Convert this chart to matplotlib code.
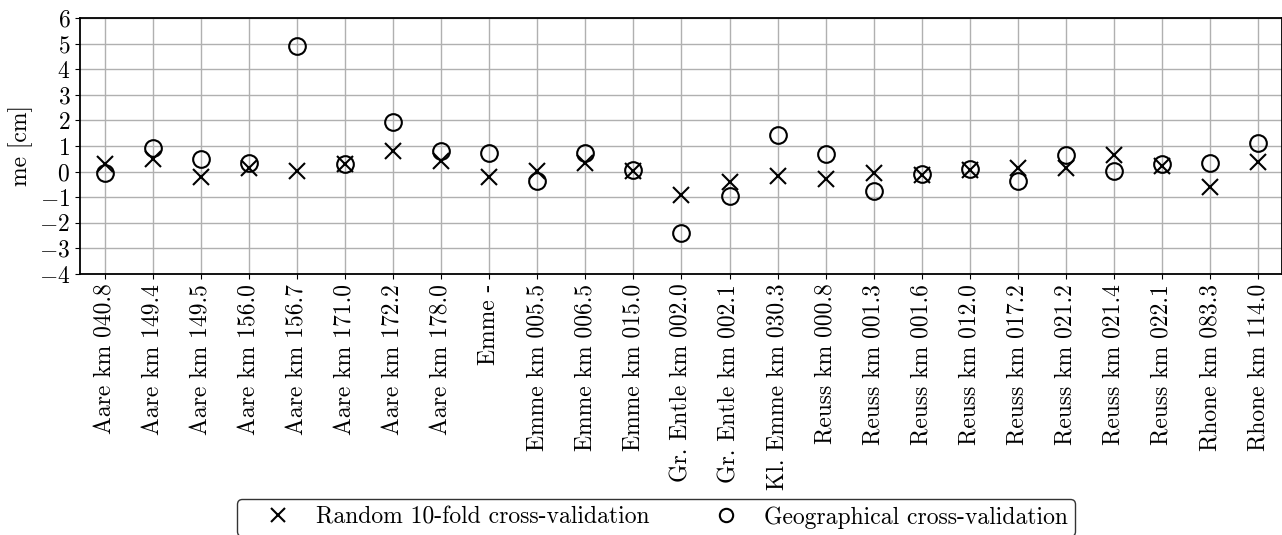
import matplotlib
matplotlib.use('Agg')
import matplotlib.pyplot as plt

plt.rcParams['font.family'] = 'serif'
plt.rcParams['font.serif'] = ['cmr10']
plt.rcParams['mathtext.fontset'] = 'cm'
plt.rcParams['axes.formatter.use_mathtext'] = True
plt.rcParams['axes.unicode_minus'] = True

stations = ['Aare km 040.8', 'Aare km 149.4', 'Aare km 149.5', 'Aare km 156.0',
            'Aare km 156.7', 'Aare km 171.0', 'Aare km 172.2', 'Aare km 178.0',
            'Emme -', 'Emme km 005.5', 'Emme km 006.5', 'Emme km 015.0',
            'Gr. Entle km 002.0', 'Gr. Entle km 002.1', 'Kl. Emme km 030.3',
            'Reuss km 000.8', 'Reuss km 001.3', 'Reuss km 001.6', 'Reuss km 012.0',
            'Reuss km 017.2', 'Reuss km 021.2', 'Reuss km 021.4', 'Reuss km 022.1',
            'Rhone km 083.3', 'Rhone km 114.0']

me_random = [0.29, 0.48, -0.20, 0.13, 0.03, 0.30, 0.82, 0.42,
             -0.20, 0.04, 0.35, 0.03, -0.91, -0.42, -0.16,
             -0.29, -0.07, -0.13, 0.07, 0.13, 0.13, 0.63, 0.23,
             -0.59, 0.36]

me_geo = [-0.04, 0.91, 0.49, 0.35, 4.91, 0.30, 1.95, 0.80,
          0.74, -0.36, 0.74, 0.05, -2.38, -0.95, 1.43,
          0.68, -0.75, -0.10, 0.09, -0.36, 0.65, 0.04, 0.30,
          0.35, 1.11]

fs = 17

fig = plt.figure(figsize=(12.82, 5.35), dpi=100)
ax = fig.add_axes([80 / 1282, 1 - 274 / 535, 1202 / 1282, 256 / 535])

x = range(len(stations))
ax.plot(x, me_random, linestyle='none', marker='x', markersize=12, markeredgewidth=1.5,
        color='black', label='Random 10-fold cross-validation', zorder=3)
ax.plot(x, me_geo, linestyle='none', marker='o', markersize=12, markeredgewidth=1.5,
        markerfacecolor='none', color='black', label='Geographical cross-validation', zorder=3)

ax.set_xlim(-0.52, 24.5)
ax.set_ylim(-4, 6)
ax.set_yticks(range(-4, 7))
ax.set_xticks(list(x))
ax.set_xticklabels(stations, rotation=90, fontsize=fs)
ax.tick_params(axis='y', labelsize=fs)
ax.set_ylabel('me [cm]', fontsize=fs)
ax.grid(True, color='#b0b0b0', linewidth=1.0)
ax.set_axisbelow(True)
for s in ax.spines.values():
    s.set_linewidth(1.3)

fig.legend(loc='upper left', bbox_to_anchor=(237 / 1282, 1 - 499 / 535), ncol=2,
           fontsize=fs, frameon=True, edgecolor='black', fancybox=True, borderaxespad=0,
           markerscale=0.8, handlelength=2.9, columnspacing=1.8, handletextpad=0.15,
           borderpad=0.3)

fig.savefig('out.png', dpi=100)
